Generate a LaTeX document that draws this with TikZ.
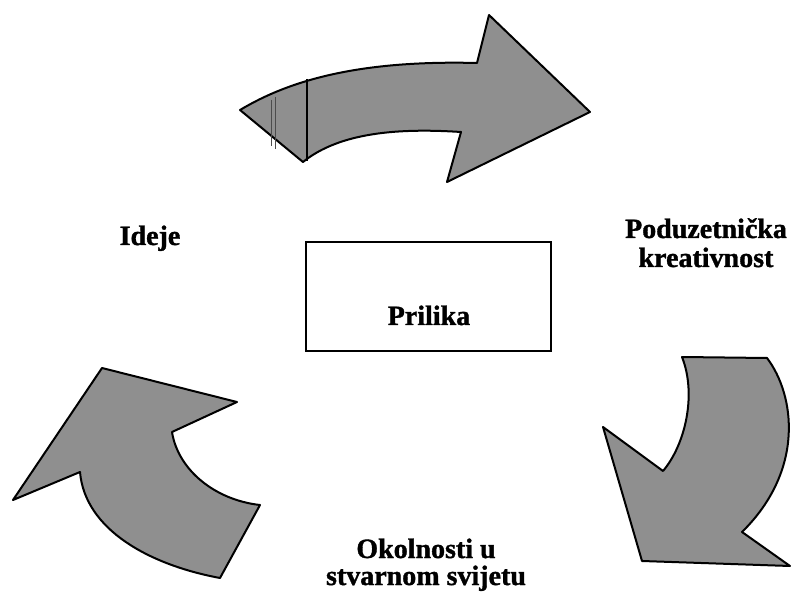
\documentclass[tikz,border=0pt]{standalone}
\usepackage{fontspec}
\setmainfont{Liberation Serif}[BoldFeatures={FakeBold=1.2}]
\begin{document}
\begin{tikzpicture}[x=1pt,y=-1pt,
  arrowshape/.style={draw=black,line width=2pt,fill=black!44,line join=round},
  label/.style={font=\fontsize{28}{29}\selectfont\bfseries,anchor=base,inner sep=0pt,align=center},
  boxstyle/.style={draw=black,line width=2pt,minimum width=245pt,minimum height=109pt,inner sep=0pt}]
\useasboundingbox (0,0) rectangle (792,593);
% top curved arrow
\draw[arrowshape] (240,110) .. controls (290,80) and (360,60) .. (477,63) -- (489,15) -- (590,112) -- (447,182) -- (461,132)
  .. controls (400,128) and (340,132) .. (303,162) -- cycle;
\draw[black!70,line width=1pt] (271,100) -- (271,146);
\draw[black!70,line width=1pt] (275,97) -- (275,149);
\draw[black,line width=2pt] (307,79) -- (307,161);
% bottom-left arrow
\draw[arrowshape] (13,500) -- (102,368) -- (237,402) -- (172,432) .. controls (178,470) and (215,500) .. (260,505)
  -- (220,578) .. controls (150,565) and (85,530) .. (80,472) -- cycle;
% bottom-right arrow
\draw[arrowshape] (682,357) -- (767,358) .. controls (795,395) and (805,470) .. (742,532) -- (790,566) -- (642,561)
  -- (603,427) -- (663,471) .. controls (685,445) and (697,395) .. (682,357) -- cycle;
% central box
\node[boxstyle] (box) at (428.5,296.5) {};
\node[label] (prilika) at (429,325) {Prilika};
% labels
\node[label] (ideje) at (150,245) {Ideje};
\node[label] (pod) at (706,238) {Poduzetnička};
\node[label] (kre) at (706,267) {kreativnost};
\node[label] (ok1) at (426,558) {Okolnosti u};
\node[label] (ok2) at (426,585) {stvarnom svijetu};
\end{tikzpicture}
\end{document}
